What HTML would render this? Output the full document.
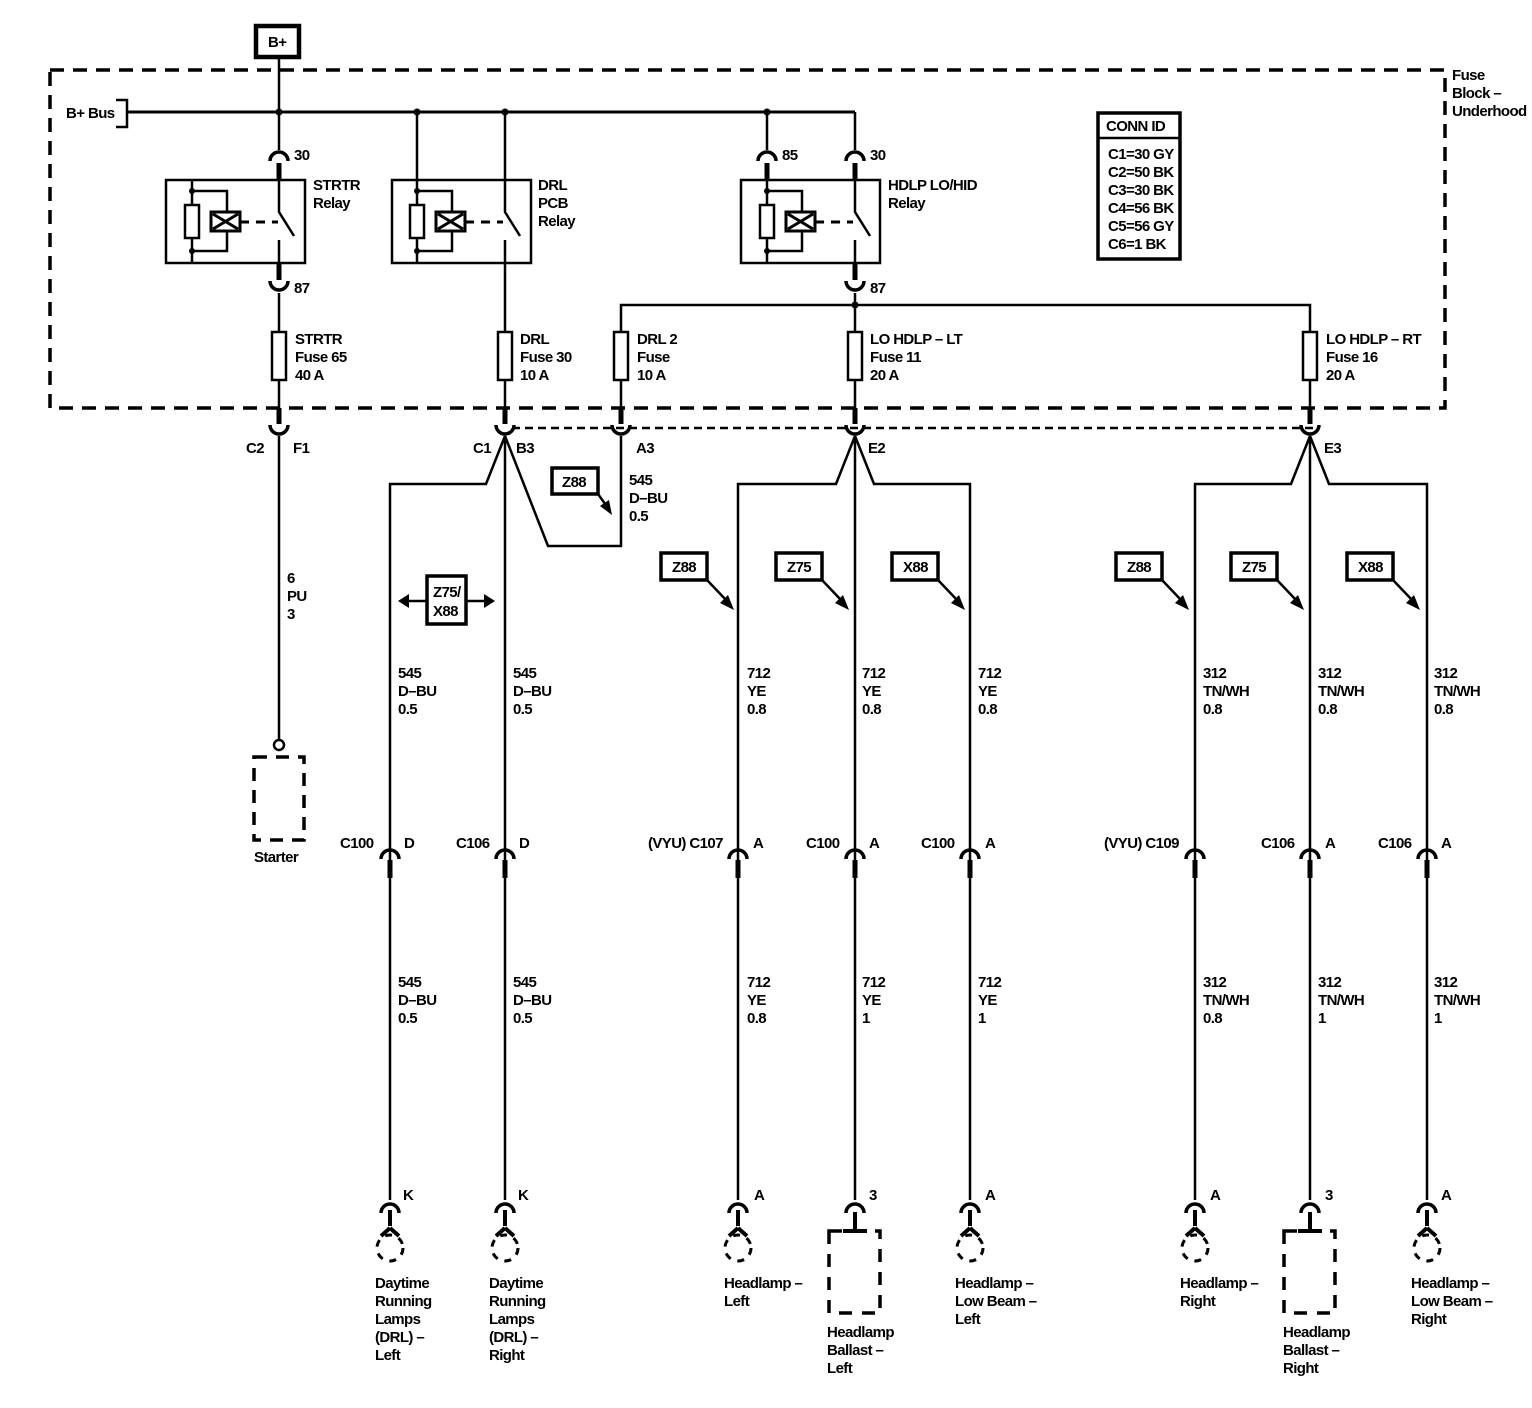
<!DOCTYPE html>
<html><head><meta charset="utf-8"><style>
html,body{margin:0;padding:0;background:#fff}
svg{display:block}
text{font-family:"Liberation Sans",sans-serif;font-size:15px;font-weight:bold;fill:#000;letter-spacing:-0.6px}
</style></head><body>
<svg width="1532" height="1408" viewBox="0 0 1532 1408" xmlns="http://www.w3.org/2000/svg">
<defs>
<path id="up" d="M-9,6 A9,9 0 0 1 9,6" fill="none" stroke="#000" stroke-width="3.5"/>
<path id="dn" d="M-9,-6 A9,9 0 0 0 9,-6" fill="none" stroke="#000" stroke-width="3.5"/>
<g id="lamp"><path d="M0,-20 L0,-4 M0,-2 L-9,6 M0,-2 L9,6" stroke="#000" stroke-width="4" fill="none"/>
<circle cx="0" cy="18" r="13" fill="none" stroke="#000" stroke-width="3" stroke-dasharray="7,7"/></g>
</defs>
<g stroke="#000" fill="none" stroke-linecap="butt">
<!-- B+ -->
<rect x="256" y="26" width="43" height="31" stroke-width="4.5"/>
<line x1="279" y1="57" x2="279" y2="112" stroke-width="2.5"/>
<!-- fuse block -->
<rect x="50" y="70" width="1395" height="338" stroke-width="3.5" stroke-dasharray="14,9"/>
<!-- bus -->
<path d="M116,100 H127 V127 H116" stroke-width="2.5"/>
<line x1="127" y1="112" x2="855" y2="112" stroke-width="3"/>
<path d="M855,112 V150 M767,112 V150" stroke-width="2.5"/>
<!-- STRTR -->
<line x1="279" y1="112" x2="279" y2="150" stroke-width="2.5"/>
<line x1="279" y1="163" x2="279" y2="180" stroke-width="5"/>
<rect x="166" y="180" width="139" height="83" stroke-width="2.5"/>
<path d="M279,180 V212 L294,236 M279,240 V263" stroke-width="2.5"/>
<line x1="279" y1="263" x2="279" y2="280" stroke-width="5"/>
<line x1="279" y1="293" x2="279" y2="332" stroke-width="2.5"/>
<rect x="272" y="332" width="14" height="48" stroke-width="2.5"/>
<line x1="279" y1="380" x2="279" y2="408" stroke-width="2.5"/>
<line x1="279" y1="408" x2="279" y2="424" stroke-width="5"/>
<line x1="279" y1="436" x2="279" y2="740" stroke-width="2.5"/>
<circle cx="279" cy="745" r="5" stroke-width="2.5"/>
<rect x="254" y="757" width="50" height="83" stroke-width="3.5" stroke-dasharray="13,9"/>
<!-- coils -->
<g stroke-width="2.5">
<path d="M192,180 V263 M192,191 H227 V212 M192,251 H227 V231"/>
<path d="M417,112 V263 M417,191 H452 V212 M417,251 H452 V231"/>
<path d="M767,163 V263 M767,191 H802 V212 M767,251 H802 V231"/>
</g>
<line x1="767" y1="163" x2="767" y2="180" stroke-width="5"/>
<g stroke-width="2.5" fill="#fff">
<rect x="185" y="205" width="14" height="33"/><rect x="410" y="205" width="14" height="33"/><rect x="760" y="205" width="14" height="33"/>
</g>
<g stroke-width="3">
<rect x="211" y="212" width="29" height="19"/><path d="M213,214 L238,229 M238,214 L213,229"/>
<rect x="436" y="212" width="29" height="19"/><path d="M438,214 L463,229 M463,214 L438,229"/>
<rect x="786" y="212" width="29" height="19"/><path d="M788,214 L813,229 M813,214 L788,229"/>
</g>
<g stroke-width="3" stroke-dasharray="9,7">
<line x1="240" y1="222" x2="278" y2="222"/><line x1="465" y1="222" x2="503" y2="222"/><line x1="815" y1="222" x2="853" y2="222"/>
</g>
<!-- DRL relay -->
<rect x="392" y="180" width="139" height="83" stroke-width="2.5"/>
<path d="M505,112 V212 L520,236 M505,240 V332" stroke-width="2.5"/>
<rect x="498" y="332" width="14" height="48" stroke-width="2.5"/>
<line x1="505" y1="380" x2="505" y2="408" stroke-width="2.5"/>
<line x1="505" y1="408" x2="505" y2="424" stroke-width="5"/>
<!-- HDLP relay -->
<rect x="741" y="180" width="139" height="83" stroke-width="2.5"/>
<line x1="855" y1="163" x2="855" y2="180" stroke-width="5"/>
<path d="M855,180 V212 L870,236 M855,240 V263" stroke-width="2.5"/>
<line x1="855" y1="263" x2="855" y2="280" stroke-width="5"/>
<line x1="855" y1="293" x2="855" y2="332" stroke-width="2.5"/>
<path d="M621,332 V305 H1310 V332" stroke-width="2.5"/>
<rect x="614" y="332" width="14" height="48" stroke-width="2.5"/>
<rect x="848" y="332" width="14" height="48" stroke-width="2.5"/>
<rect x="1303" y="332" width="14" height="48" stroke-width="2.5"/>
<path d="M621,380 V408 M855,380 V408 M1310,380 V408" stroke-width="2.5"/>
<path d="M621,408 V424 M855,408 V424 M1310,408 V424" stroke-width="5"/>
<!-- dotted -->
<line x1="512" y1="428" x2="1318" y2="428" stroke-width="2.5" stroke-dasharray="8,5"/>
<!-- splices -->
<path d="M505,436 L486,484 H390 V1200 M505,436 V1200 M505,436 L548,546 H621 V436" stroke-width="2.5"/>
<path d="M855,436 L836,484 H738 V1200 M855,436 V1200 M855,436 L874,484 H970 V1200" stroke-width="2.5"/>
<path d="M1310,436 L1291,484 H1195 V1200 M1310,436 V1200 M1310,436 L1329,484 H1427 V1200" stroke-width="2.5"/>
<!-- connector stubs middle -->
<g stroke-width="5">
<path d="M390,860 V878 M505,860 V878 M738,860 V878 M855,860 V878 M970,860 V878 M1195,860 V878 M1310,860 V878 M1427,860 V878"/>
</g>
<!-- option boxes -->
<g stroke-width="3.5">
<rect x="552" y="468" width="46" height="26"/>
<rect x="427" y="576" width="39" height="48"/>
<rect x="661" y="553" width="46" height="27"/><rect x="776" y="553" width="46" height="27"/><rect x="892" y="553" width="46" height="27"/>
<rect x="1116" y="553" width="46" height="27"/><rect x="1231" y="553" width="46" height="27"/><rect x="1347" y="553" width="46" height="27"/>
</g>
<g stroke-width="2.5">
<path d="M598,494 L608,508"/><path d="M406,601 H427 M466,601 H487"/>
<path d="M707,580 L726,600"/><path d="M822,580 L841,600"/><path d="M938,580 L957,600"/>
<path d="M1162,580 L1181,600"/><path d="M1277,580 L1296,600"/><path d="M1393,580 L1412,600"/>
</g>
<rect x="829" y="1231" width="51" height="82" stroke-width="3.5" stroke-dasharray="13,10"/>
<rect x="1284" y="1231" width="51" height="82" stroke-width="3.5" stroke-dasharray="13,10"/>
<path d="M855,1212 V1231 M843,1231 H867 M1310,1212 V1231 M1298,1231 H1322" stroke-width="4"/>
</g>
<g fill="#000">
<polygon points="612,515 600,506 609,500"/>
<polygon points="398,601 409,594 409,608"/><polygon points="495,601 484,594 484,608"/>
<polygon points="734,610 720,603 728,595"/><polygon points="849,610 835,603 843,595"/><polygon points="965,610 951,603 959,595"/>
<polygon points="1189,610 1175,603 1183,595"/><polygon points="1304,610 1290,603 1298,595"/><polygon points="1420,610 1406,603 1414,595"/>
<circle cx="279" cy="112" r="3.5"/><circle cx="417" cy="112" r="3.5"/><circle cx="505" cy="112" r="3.5"/><circle cx="767" cy="112" r="3.5"/><circle cx="855" cy="305" r="3.5"/>
<circle cx="192" cy="191" r="3"/><circle cx="192" cy="251" r="3"/><circle cx="417" cy="191" r="3"/><circle cx="417" cy="251" r="3"/><circle cx="767" cy="191" r="3"/><circle cx="767" cy="251" r="3"/>
</g>
<!-- connector arcs -->
<use href="#up" x="279" y="155"/><use href="#up" x="767" y="155"/><use href="#up" x="855" y="155"/>
<use href="#dn" x="279" y="287"/><use href="#dn" x="855" y="287"/>
<use href="#dn" x="279" y="431"/><use href="#dn" x="505" y="431"/><use href="#dn" x="621" y="431"/><use href="#dn" x="855" y="431"/><use href="#dn" x="1310" y="431"/>
<use href="#up" x="390" y="853"/><use href="#up" x="505" y="853"/><use href="#up" x="738" y="853"/><use href="#up" x="855" y="853"/><use href="#up" x="970" y="853"/><use href="#up" x="1195" y="853"/><use href="#up" x="1310" y="853"/><use href="#up" x="1427" y="853"/>
<use href="#up" x="390" y="1207"/><use href="#up" x="505" y="1207"/><use href="#up" x="738" y="1207"/><use href="#up" x="855" y="1207"/><use href="#up" x="970" y="1207"/><use href="#up" x="1195" y="1207"/><use href="#up" x="1310" y="1207"/><use href="#up" x="1427" y="1207"/>
<use href="#lamp" x="390" y="1230"/><use href="#lamp" x="505" y="1230"/><use href="#lamp" x="738" y="1230"/><use href="#lamp" x="970" y="1230"/><use href="#lamp" x="1195" y="1230"/><use href="#lamp" x="1427" y="1230"/>

<!-- texts -->
<text x="268" y="47">B+</text>
<text x="66" y="118">B+ Bus</text>
<text x="1452" y="80" font-weight="normal">Fuse</text><text x="1452" y="98">Block –</text><text x="1452" y="116">Underhood</text>
<rect x="1098" y="113" width="82" height="146" fill="none" stroke="#000" stroke-width="3.5"/>
<line x1="1098" y1="138" x2="1180" y2="138" stroke="#000" stroke-width="2.5"/>
<text x="1106" y="131">CONN ID</text>
<text x="1108" y="159">C1=30 GY</text><text x="1108" y="177">C2=50 BK</text><text x="1108" y="195">C3=30 BK</text><text x="1108" y="213">C4=56 BK</text><text x="1108" y="231">C5=56 GY</text><text x="1108" y="249">C6=1 BK</text>
<text x="294" y="160">30</text><text x="782" y="160">85</text><text x="870" y="160">30</text>
<text x="294" y="293">87</text><text x="870" y="293">87</text>
<text x="313" y="190">STRTR</text><text x="313" y="208">Relay</text>
<text x="538" y="190">DRL</text><text x="538" y="208">PCB</text><text x="538" y="226">Relay</text>
<text x="888" y="190">HDLP LO/HID</text><text x="888" y="208">Relay</text>
<text x="295" y="344">STRTR</text><text x="295" y="362">Fuse 65</text><text x="295" y="380">40 A</text>
<text x="520" y="344">DRL</text><text x="520" y="362">Fuse 30</text><text x="520" y="380">10 A</text>
<text x="637" y="344">DRL 2</text><text x="637" y="362">Fuse</text><text x="637" y="380">10 A</text>
<text x="870" y="344">LO HDLP – LT</text><text x="870" y="362">Fuse 11</text><text x="870" y="380">20 A</text>
<text x="1326" y="344">LO HDLP – RT</text><text x="1326" y="362">Fuse 16</text><text x="1326" y="380">20 A</text>
<text x="246" y="453">C2</text><text x="293" y="453">F1</text>
<text x="473" y="453">C1</text><text x="516" y="453">B3</text>
<text x="636" y="453">A3</text><text x="868" y="453">E2</text><text x="1324" y="453">E3</text>
<text x="287" y="583">6</text><text x="287" y="601">PU</text><text x="287" y="619">3</text>
<text x="562" y="487">Z88</text>
<text x="629" y="485">545</text><text x="629" y="503">D–BU</text><text x="629" y="521">0.5</text>
<text x="433" y="597">Z75/</text><text x="433" y="616">X88</text>
<text x="672" y="572">Z88</text><text x="787" y="572">Z75</text><text x="903" y="572">X88</text>
<text x="1127" y="572">Z88</text><text x="1242" y="572">Z75</text><text x="1358" y="572">X88</text>
<g>
<text x="398" y="678">545</text><text x="398" y="696">D–BU</text><text x="398" y="714">0.5</text>
<text x="513" y="678">545</text><text x="513" y="696">D–BU</text><text x="513" y="714">0.5</text>
<text x="747" y="678">712</text><text x="747" y="696">YE</text><text x="747" y="714">0.8</text>
<text x="862" y="678">712</text><text x="862" y="696">YE</text><text x="862" y="714">0.8</text>
<text x="978" y="678">712</text><text x="978" y="696">YE</text><text x="978" y="714">0.8</text>
<text x="1203" y="678">312</text><text x="1203" y="696">TN/WH</text><text x="1203" y="714">0.8</text>
<text x="1318" y="678">312</text><text x="1318" y="696">TN/WH</text><text x="1318" y="714">0.8</text>
<text x="1434" y="678">312</text><text x="1434" y="696">TN/WH</text><text x="1434" y="714">0.8</text>
</g>
<g>
<text x="340" y="848">C100</text><text x="404" y="848">D</text>
<text x="456" y="848">C106</text><text x="519" y="848">D</text>
<text x="648" y="848">(VYU) C107</text><text x="753" y="848">A</text>
<text x="806" y="848">C100</text><text x="869" y="848">A</text>
<text x="921" y="848">C100</text><text x="985" y="848">A</text>
<text x="1104" y="848">(VYU) C109</text>
<text x="1261" y="848">C106</text><text x="1325" y="848">A</text>
<text x="1378" y="848">C106</text><text x="1441" y="848">A</text>
</g>
<g>
<text x="398" y="987">545</text><text x="398" y="1005">D–BU</text><text x="398" y="1023">0.5</text>
<text x="513" y="987">545</text><text x="513" y="1005">D–BU</text><text x="513" y="1023">0.5</text>
<text x="747" y="987">712</text><text x="747" y="1005">YE</text><text x="747" y="1023">0.8</text>
<text x="862" y="987">712</text><text x="862" y="1005">YE</text><text x="862" y="1023">1</text>
<text x="978" y="987">712</text><text x="978" y="1005">YE</text><text x="978" y="1023">1</text>
<text x="1203" y="987">312</text><text x="1203" y="1005">TN/WH</text><text x="1203" y="1023">0.8</text>
<text x="1318" y="987">312</text><text x="1318" y="1005">TN/WH</text><text x="1318" y="1023">1</text>
<text x="1434" y="987">312</text><text x="1434" y="1005">TN/WH</text><text x="1434" y="1023">1</text>
</g>
<text x="403" y="1200">K</text><text x="518" y="1200">K</text><text x="754" y="1200">A</text><text x="869" y="1200">3</text><text x="985" y="1200">A</text>
<text x="1210" y="1200">A</text><text x="1325" y="1200">3</text><text x="1441" y="1200">A</text>
<text x="254" y="862">Starter</text>
<text x="375" y="1288">Daytime</text><text x="375" y="1306">Running</text><text x="375" y="1324">Lamps</text><text x="375" y="1342">(DRL) –</text><text x="375" y="1360">Left</text>
<text x="489" y="1288">Daytime</text><text x="489" y="1306">Running</text><text x="489" y="1324">Lamps</text><text x="489" y="1342">(DRL) –</text><text x="489" y="1360">Right</text>
<text x="724" y="1288">Headlamp –</text><text x="724" y="1306">Left</text>
<text x="827" y="1337">Headlamp</text><text x="827" y="1355">Ballast –</text><text x="827" y="1373">Left</text>
<text x="955" y="1288">Headlamp –</text><text x="955" y="1306">Low Beam –</text><text x="955" y="1324">Left</text>
<text x="1180" y="1288">Headlamp –</text><text x="1180" y="1306">Right</text>
<text x="1283" y="1337">Headlamp</text><text x="1283" y="1355">Ballast –</text><text x="1283" y="1373">Right</text>
<text x="1411" y="1288">Headlamp –</text><text x="1411" y="1306">Low Beam –</text><text x="1411" y="1324">Right</text>
</svg>
</body></html>
